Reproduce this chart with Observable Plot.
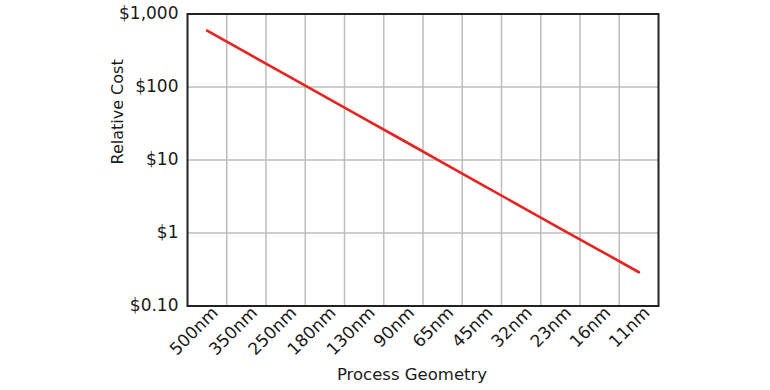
<!DOCTYPE html>
<html>
<head>
<meta charset="utf-8">
<script src="https://cdn.jsdelivr.net/npm/d3@7"></script>
<script src="https://cdn.jsdelivr.net/npm/@observablehq/plot@0.6"></script>
<style>
  html, body { margin: 0; padding: 0; background: #fff; }
</style>
</head>
<body>
<div id="chart"></div>
<script>
const categories = ["500nm", "350nm", "250nm", "180nm", "130nm", "90nm", "65nm", "45nm", "32nm", "23nm", "16nm", "11nm"];
const costs = [590, 295, 148, 74, 37, 18.5, 9.2, 4.6, 2.3, 1.15, 0.58, 0.29];
const yTicks = [0.1, 1, 10, 100, 1000];
const yTickLabels = ["$0.10", "$1", "$10", "$100", "$1,000"];
const xTitle = "Process Geometry";
const yTitle = "Relative Cost";

const idx = categories.map((d, i) => i);
const gridX = idx.slice(0, -1).map(i => i + 0.5);

const chart = Plot.plot({
  width: 770,
  height: 390,
  marginLeft: 187,
  marginRight: 112,
  marginTop: 13.5,
  marginBottom: 84.5,
  style: { fontFamily: "DejaVu Sans", color: "#1a1a1a", background: "#fff" },
  x: { type: "linear", domain: [-0.5, categories.length - 0.5] },
  y: { type: "log", domain: [yTicks[0], yTicks[yTicks.length - 1]] },
  marks: [
    Plot.ruleX(gridX, { stroke: "#bdbdbd", strokeWidth: 1.5 }),
    Plot.ruleY(yTicks, { stroke: "#bdbdbd", strokeWidth: 1.5 }),
    Plot.line(idx, { x: i => i, y: i => costs[i], stroke: "#e8221e", strokeWidth: 2.6 }),
    Plot.frame({ stroke: "#222", strokeWidth: 2 }),
    Plot.axisY({
      ticks: yTicks,
      tickFormat: d => yTickLabels[yTicks.indexOf(d)],
      tickSize: 0, tickPadding: 9, fontSize: 17, label: null
    }),
    Plot.axisX({
      ticks: idx,
      tickFormat: i => categories[i],
      tickRotate: -45, tickSize: 0, tickPadding: 4, dx: 8,
      fontSize: 17, label: null
    }),
    Plot.text([yTitle], { frameAnchor: "left", rotate: -90, dx: -70, dy: 4.5, fontSize: 16, fill: "#1a1a1a" }),
    Plot.text([xTitle], { frameAnchor: "bottom", dx: -11, dy: 74, fontSize: 16.5, fill: "#1a1a1a" })
  ]
});
document.getElementById("chart").appendChild(chart);
</script>
</body>
</html>
